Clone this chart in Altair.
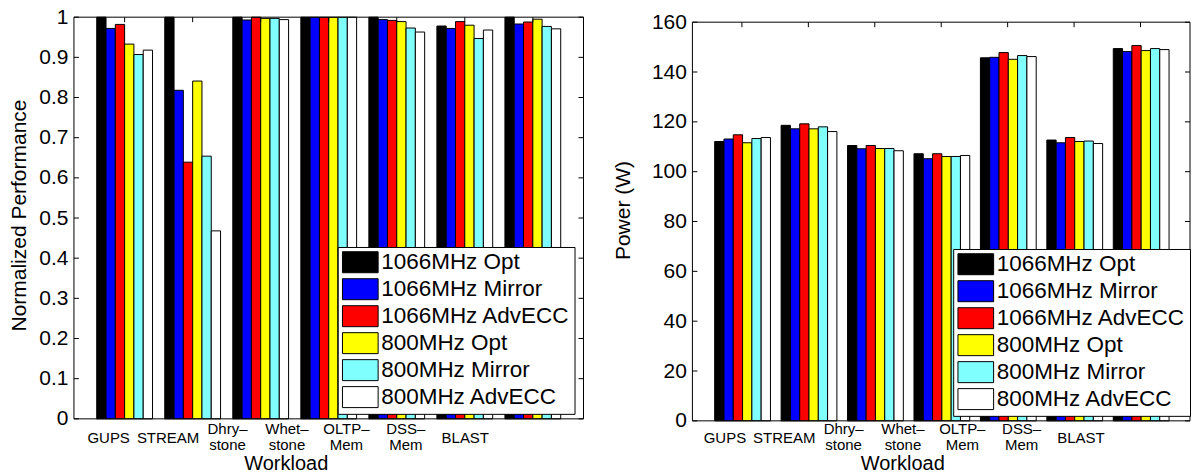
import json
import altair as alt
import pandas as pd

workloads = ["GUPS", "STREAM", "Dhry–\nstone", "Whet–\nstone", "OLTP–\nMem", "DSS–\nMem", "BLAST"]
configs = ["1066MHz Opt", "1066MHz Mirror", "1066MHz AdvECC", "800MHz Opt", "800MHz Mirror", "800MHz AdvECC"]
colors = ["#000000", "#0000ff", "#ff0000", "#ffff00", "#80ffff", "#ffffff"]

perf_1066_opt = [1.0, 1.0, 1.0, 1.0, 1.0, 0.978, 1.0]
perf_1066_mirror = [0.972, 0.818, 0.993, 1.0, 0.994, 0.972, 0.983]
perf_1066_advecc = [0.982, 0.639, 1.0, 1.0, 0.992, 0.989, 0.988]
perf_800_opt = [0.933, 0.841, 0.997, 1.0, 0.989, 0.980, 0.995]
perf_800_mirror = [0.907, 0.654, 0.997, 1.0, 0.973, 0.947, 0.977]
perf_800_advecc = [0.918, 0.468, 0.994, 1.0, 0.963, 0.968, 0.971]

power_1066_opt = [112.1, 118.6, 110.5, 107.2, 145.7, 112.7, 149.4]
power_1066_mirror = [113.1, 117.2, 109.2, 105.2, 145.9, 111.6, 148.2]
power_1066_advecc = [114.8, 119.2, 110.5, 107.2, 147.8, 113.7, 150.6]
power_800_opt = [111.6, 117.2, 109.3, 106.1, 145.1, 112.1, 148.6]
power_800_mirror = [113.3, 118.0, 109.3, 106.1, 146.6, 112.3, 149.4]
power_800_advecc = [113.7, 116.1, 108.4, 106.5, 146.2, 111.3, 149.0]

perf_ticks = [0, 0.1, 0.2, 0.3, 0.4, 0.5, 0.6, 0.7, 0.8, 0.9, 1.0]
power_ticks = [0, 20, 40, 60, 80, 100, 120, 140, 160]

FONT = "Liberation Sans"


def long_df(series):
    rows = []
    for cfg, vals in zip(configs, series):
        for w, v in zip(workloads, vals):
            rows.append({"workload": w, "config": cfg, "value": v})
    return pd.DataFrame(rows)


perf_df = long_df([perf_1066_opt, perf_1066_mirror, perf_1066_advecc,
                   perf_800_opt, perf_800_mirror, perf_800_advecc])
power_df = long_df([power_1066_opt, power_1066_mirror, power_1066_advecc,
                    power_800_opt, power_800_mirror, power_800_advecc])


def panel(df, domain, ticks, ytitle, yfmt, W, H, top_gap, legend_xy, off0, offstep,
          xlab_pad, xtitle_x, xtitle_y, ytitle_x, ytitle_y):
    xscale = alt.Scale(domain=workloads, paddingInner=0.18, paddingOuter=0.335)
    yscale = alt.Scale(domain=domain, nice=False, zero=True, range=[H, top_gap])
    arr = json.dumps(workloads, ensure_ascii=False)
    x_axis = alt.Axis(title="Workload", ticks=False, domain=False, grid=False,
                      labelAngle=0, labelFontSize=15, labelLineHeight=16,
                      labelBaseline={"expr": "indexof(datum.value, '\\n') >= 0 ? 'line-bottom' : 'middle'"},
                      labelPadding=xlab_pad, labelLimit=0,
                      labelOverlap=False,
                      labelExpr="split(datum.label, '\\n')",
                      labelOffset={"expr": f"{off0} + {offstep}*indexof({arr}, datum.value)"},
                      titleFontSize=20, titleFontWeight="normal",
                      titleX=xtitle_x, titleY=xtitle_y, titleBaseline="middle",
                      titleAlign="center")
    y_axis = alt.Axis(title=ytitle, values=ticks, format=yfmt, ticks=False,
                      domain=False, grid=False, labelFontSize=21, labelPadding=6,
                      titleFontSize=21, titleFontWeight="normal",
                      titleX=ytitle_x, titleY=ytitle_y, titleBaseline="middle",
                      titleAlign="center")
    bars = alt.Chart(df).mark_bar(stroke="black", strokeWidth=1).encode(
        x=alt.X("workload:N", sort=workloads, scale=xscale, axis=x_axis),
        xOffset=alt.XOffset("config:N", sort=configs,
                            scale=alt.Scale(domain=configs, paddingInner=0, paddingOuter=0)),
        y=alt.Y("value:Q", scale=yscale, axis=y_axis),
        color=alt.Color("config:N", sort=configs,
                        scale=alt.Scale(domain=configs, range=colors),
                        legend=alt.Legend(orient="none", legendX=legend_xy[0], legendY=legend_xy[1],
                                          title=None, fillColor="white", strokeColor="black",
                                          padding=4, symbolType="M-1,-1H2.4V1H-1Z",
                                          symbolSize=441, symbolStrokeColor="black",
                                          symbolStrokeWidth=1, symbolOpacity=1,
                                          labelFontSize=22.5, labelOffset=17, rowPadding=1,
                                          labelLimit=0, labelFont=FONT, labelColor="black")),
    )
    tick_df = pd.DataFrame({"value": ticks})
    left_t = alt.Chart(tick_df).mark_rule(color="black", strokeWidth=1).encode(
        y=alt.Y("value:Q", scale=yscale, axis=y_axis), x=alt.value(0), x2=alt.value(5))
    right_t = alt.Chart(tick_df).mark_rule(color="black", strokeWidth=1).encode(
        y=alt.Y("value:Q", scale=yscale, axis=y_axis), x=alt.value(W - 5), x2=alt.value(W))
    top_t = alt.Chart(pd.DataFrame({"workload": workloads})).mark_rule(color="black", strokeWidth=1).encode(
        x=alt.X("workload:N", sort=workloads, scale=xscale, axis=x_axis),
        y=alt.value(top_gap), y2=alt.value(top_gap + 5))
    # axes box (top, bottom, left, right edges) at the domain limits
    edge_df = pd.DataFrame({"value": [domain[0], domain[1]]})
    hedges = alt.Chart(edge_df).mark_rule(color="black", strokeWidth=1).encode(
        y=alt.Y("value:Q", scale=yscale, axis=y_axis))
    box_df = pd.DataFrame({"value": [domain[1]], "value2": [domain[0]]})
    ledge = alt.Chart(box_df).mark_rule(color="black", strokeWidth=1).encode(
        y=alt.Y("value:Q", scale=yscale, axis=y_axis), y2="value2:Q", x=alt.value(0))
    redge = alt.Chart(box_df).mark_rule(color="black", strokeWidth=1).encode(
        y=alt.Y("value:Q", scale=yscale, axis=y_axis), y2="value2:Q", x=alt.value(W))
    return alt.layer(bars, left_t, right_t, top_t, hedges, ledge, redge).properties(width=W, height=H)


left = panel(perf_df, [0, 1], perf_ticks, "Normalized Performance", ".1~f", 510, 402, 0,
             (264, 230), -16, -8.6, 19, 212, 45, -54, 198)
right = panel(power_df, [0, 160], power_ticks, "Power (W)", "d", 498, 404, 5,
              (261, 232), -17, -7.1, 17, 210, 43, -69, 193)

chart = alt.hconcat(left, right, spacing=28).resolve_scale(
    color="independent", x="independent", y="independent").resolve_legend(color="independent").properties(
    padding={"left": 9, "top": 6, "right": 2, "bottom": 0}
).configure(font=FONT).configure_view(strokeOpacity=0).configure_axis(
    labelColor="black", titleColor="black", labelFont=FONT, titleFont=FONT)

chart.save("out.html", embed_options={"renderer": "svg", "actions": False})
